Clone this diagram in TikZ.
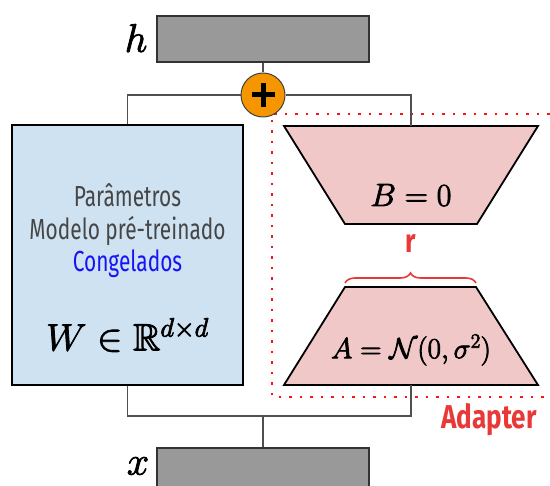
\RequirePackage{fix-cm}
\documentclass[tikz,border=0pt]{standalone}
\usepackage{amsmath,amssymb}
\usepackage{fontspec}
\newfontfamily\condfont{Fira Sans}[FakeStretch=0.72]
\newfontfamily\condboldfont{Fira Sans}[FakeStretch=0.79]
\usetikzlibrary{decorations.pathreplacing}
\newcommand{\heavy}[1]{\special{pdf:literal direct 2 Tr 0.8 w}#1\special{pdf:literal direct 0 Tr}}
\definecolor{grayface}{RGB}{153,153,153}
\definecolor{blueface}{RGB}{207,226,241}
\definecolor{pinkface}{RGB}{240,200,200}
\definecolor{orangeface}{RGB}{245,150,0}
\definecolor{dotred}{RGB}{250,20,20}
\definecolor{labelred}{RGB}{232,56,56}
\definecolor{congblue}{RGB}{20,20,245}
\definecolor{textgray}{RGB}{70,70,70}
\definecolor{wiregray}{RGB}{80,80,80}
\begin{document}
\begin{tikzpicture}[
  x=1pt, y=-1pt,
  grayblock/.style={draw=black!80, fill=grayface, line width=1.8pt, minimum width=212pt, minimum height=46pt, inner sep=0pt},
  frozen/.style={draw=black, fill=blueface, line width=1.8pt, minimum width=231pt, minimum height=260pt, inner sep=0pt},
  adapt/.style={draw=black, fill=pinkface, line width=1.8pt, line join=miter},
  addnode/.style={circle, draw=black!75, fill=orangeface, line width=1pt, minimum size=44pt, inner sep=0pt},
  plus/.style={line width=5pt, black},
  wire/.style={draw=wiregray, line width=1.6pt},
  mathlabel/.style={font=\fontsize{40}{48}\selectfont},
  mathbig/.style={font=\fontsize{38}{46}\selectfont},
  mathmid/.style={font=\fontsize{29}{35}\selectfont},
  bodytext/.style={font=\condfont\fontsize{29}{32.5}\selectfont, text=textgray, align=center},
  redtext/.style={font=\condboldfont\bfseries\fontsize{33}{40}\selectfont, text=labelred},
  rankbrace/.style={draw=labelred, line width=1.6pt, decorate, decoration={brace, amplitude=10pt, raise=4pt}},
  adapterframe/.style={draw=dotred, line width=2.5pt, dash pattern=on 2.5pt off 8pt}
]
\useasboundingbox (0,0) rectangle (550,486);
\draw[adapterframe] (560,114) -| (272,397) -- (560,397);
\node[grayblock] (hbox) at (263,39) {};
\node[mathlabel] (hlab) at (136,38) {\heavy{$h$}};
\node[addnode] (add) at (263,95) {};
\draw[plus] ([xshift=-11.5pt]add.center) -- ([xshift=11.5pt]add.center);
\draw[plus] ([yshift=-12pt]add.center) -- ([yshift=12pt]add.center);
\node[frozen] (wbox) at (127.5,255) {};
\node[bodytext] (wtext) at (127.5,231) {Parâmetros\\Modelo pré-treinado\\\textcolor{congblue}{Congelados}};
\node[mathbig] (wmath) at (127.5,335) {\heavy{$W \in \mathbb{R}^{d\times d}$}};
\draw[adapt] (284,126) coordinate (btl) -- (538,126) coordinate (btr)
  -- (477,224) -- (345,224) -- cycle;
\coordinate (btop) at (411,126);
\node[mathmid, font=\fontsize{32}{38}\selectfont] (btext) at (411,195) {\heavy{$B=0$}};
\draw[adapt] (345,287) coordinate (atl) -- (476,287) coordinate (atr)
  -- (538,385) -- (284,385) -- cycle;
\coordinate (abot) at (411,385);
\node[mathmid] (atext) at (411,350) {\heavy{$A=\mathcal{N}(0,\sigma^2)$}};
\draw[rankbrace] (atl) -- (atr);
\node[redtext] (rlab) at (411,243) {r};
\node[redtext] (adlab) at (489,420) {Adapter};
\node[grayblock] (xbox) at (263,471) {};
\node[mathlabel] (xlab) at (138,466) {\heavy{$x$}};
\coordinate (split) at (263,416);
\draw[wire] (hbox.south) -- (add.north);
\draw[wire] (add.west) -| (wbox.north);
\draw[wire] (add.east) -| (btop);
\draw[wire] (wbox.south) |- (split) -| (abot);
\draw[wire] (split) -- (xbox.north);
\end{tikzpicture}
\end{document}
